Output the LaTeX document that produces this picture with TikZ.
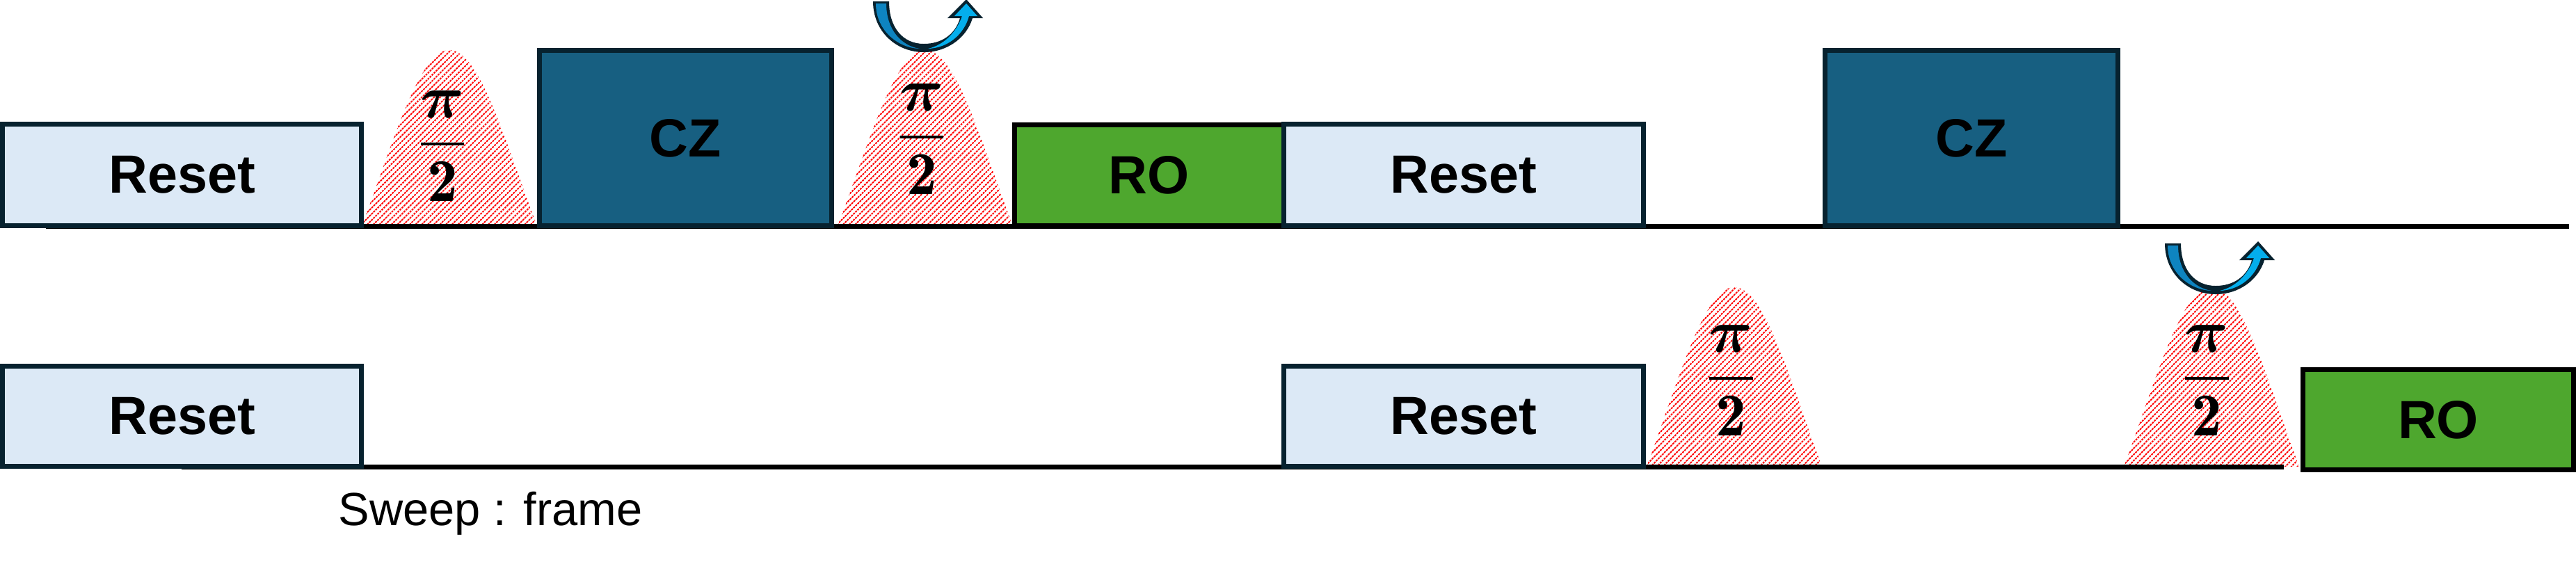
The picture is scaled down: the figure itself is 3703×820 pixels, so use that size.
\documentclass[tikz,border=0pt]{standalone}
\usepackage{amsmath}
\usepackage{bm}
\usepackage{fontspec}
\newfontfamily\arialfont{Liberation Sans}
\definecolor{navy}{HTML}{07222F}
\definecolor{resetfill}{HTML}{DCE9F6}
\definecolor{czfill}{HTML}{175F81}
\definecolor{rofill}{HTML}{4EA72E}
\definecolor{arrowL}{HTML}{0E84C0}
\definecolor{arrowR}{HTML}{04AEEC}
\newcommand{\halfpi}{$\dfrac{\bm{\pi}}{\mathbf{2}}$}
\begin{document}
\begin{tikzpicture}[x=0.01cm,y=-0.01cm,
  gatebox/.style={draw=navy, line width=2pt, inner sep=0pt,
    font=\arialfont\bfseries\fontsize{22}{26}\selectfont},
  resetbox/.style={gatebox, fill=resetfill, minimum width=5.16cm, minimum height=1.46cm},
  czbox/.style={gatebox, fill=czfill, minimum width=4.20cm, minimum height=2.52cm},
  robox/.style={gatebox, draw=black, fill=rofill, minimum width=3.87cm, minimum height=1.45cm},
  tline/.style={black, line width=2pt},
  hatch/.style={red, line width=0.55pt, dash pattern=on 0.85pt off 0.35pt},
  fraclbl/.style={inner sep=0pt, font=\fontsize{24.88}{28}\selectfont},
  sweeplbl/.style={inner sep=0pt, font=\arialfont\fontsize{19}{23}\selectfont},
  gpulse/.pic={
    \begin{scope}
      \clip plot[domain=-126:126,samples=60] (\x,{-(461.7*exp(-0.5*(\x/100)^2)-208.7)}) -- cycle;
      \foreach \k in {0,...,60} \draw[hatch] (-400+\k*8.7,10) -- ++(285,-285);
    \end{scope}
  },
  rotarrow/.pic={
    \fill[navy] (-73,-73) .. controls (-73,-30) and (-40,0) .. (0,0)
      .. controls (35,0) and (62,-22) .. (70,-49) -- (85,-49) -- (61,-76) -- (34,-49) -- (52,-49)
      .. controls (45,-25) and (25,-12) .. (0,-12)
      .. controls (-30,-12) and (-50,-35) .. (-50,-73) -- cycle;
    \fill[arrowL] (-69,-70) .. controls (-69,-32) and (-38,-6) .. (-6,-5)
      .. controls (-32,-9) and (-54,-32) .. (-54,-70) -- cycle;
    \fill[arrowR] (6,-5) .. controls (35,-6) and (58,-26) .. (65,-52) -- (77,-52) -- (61,-70)
      -- (44,-52) -- (55,-52) .. controls (47,-28) and (28,-10) .. (6,-5) -- cycle;
  }]
\fill[white] (0,0) rectangle (3703,820);
\useasboundingbox (0,0) rectangle (3703,820);

% pulses
\pic at (646,325) {gpulse};
\pic at (1330,325) {gpulse};
\pic[yscale=1.02] at (2493,671) {gpulse};
\pic[yscale=1.02] at (3179,671) {gpulse};

% timelines
\coordinate (t0) at (66,325);
\coordinate (t1) at (3693,325);
\coordinate (b0) at (261,671);
\coordinate (b1) at (3283,671);
\draw[tline] (t0) -- (t1);
\draw[tline] (b0) -- (b1);

% top row
\node[resetbox] (reset1) at (261.5,251.5) {Reset};
\node[czbox] (cz1) at (985.5,198.5) {CZ};
\node[robox] (ro1) at (1652,252) {RO};
\node[resetbox] (reset2) at (2104,251.5) {Reset};
\node[czbox] (cz2) at (2834,198.5) {CZ};

% bottom row
\node[resetbox, minimum height=1.44cm] (reset3) at (261.5,598.5) {Reset};
\node[resetbox, minimum height=1.44cm] (reset4) at (2104,598.5) {Reset};
\node[robox, minimum height=1.44cm, minimum width=3.89cm] (ro2) at (3505,603.5) {RO};

% pulse labels
\node[fraclbl, anchor=base] (f1) at (636,229) {\halfpi};
\node[fraclbl, anchor=base] (f2) at (1325,219) {\halfpi};
\node[fraclbl, anchor=base] (f3) at (2488,566) {\halfpi};
\node[fraclbl, anchor=base] (f4) at (3172,566) {\halfpi};

% rotation arrows
\pic at (1328,75) {rotarrow};
\pic at (3185,423) {rotarrow};

\node[sweeplbl, anchor=base] (sweep) at (705,755) {Sweep : frame};
\end{tikzpicture}
\end{document}
